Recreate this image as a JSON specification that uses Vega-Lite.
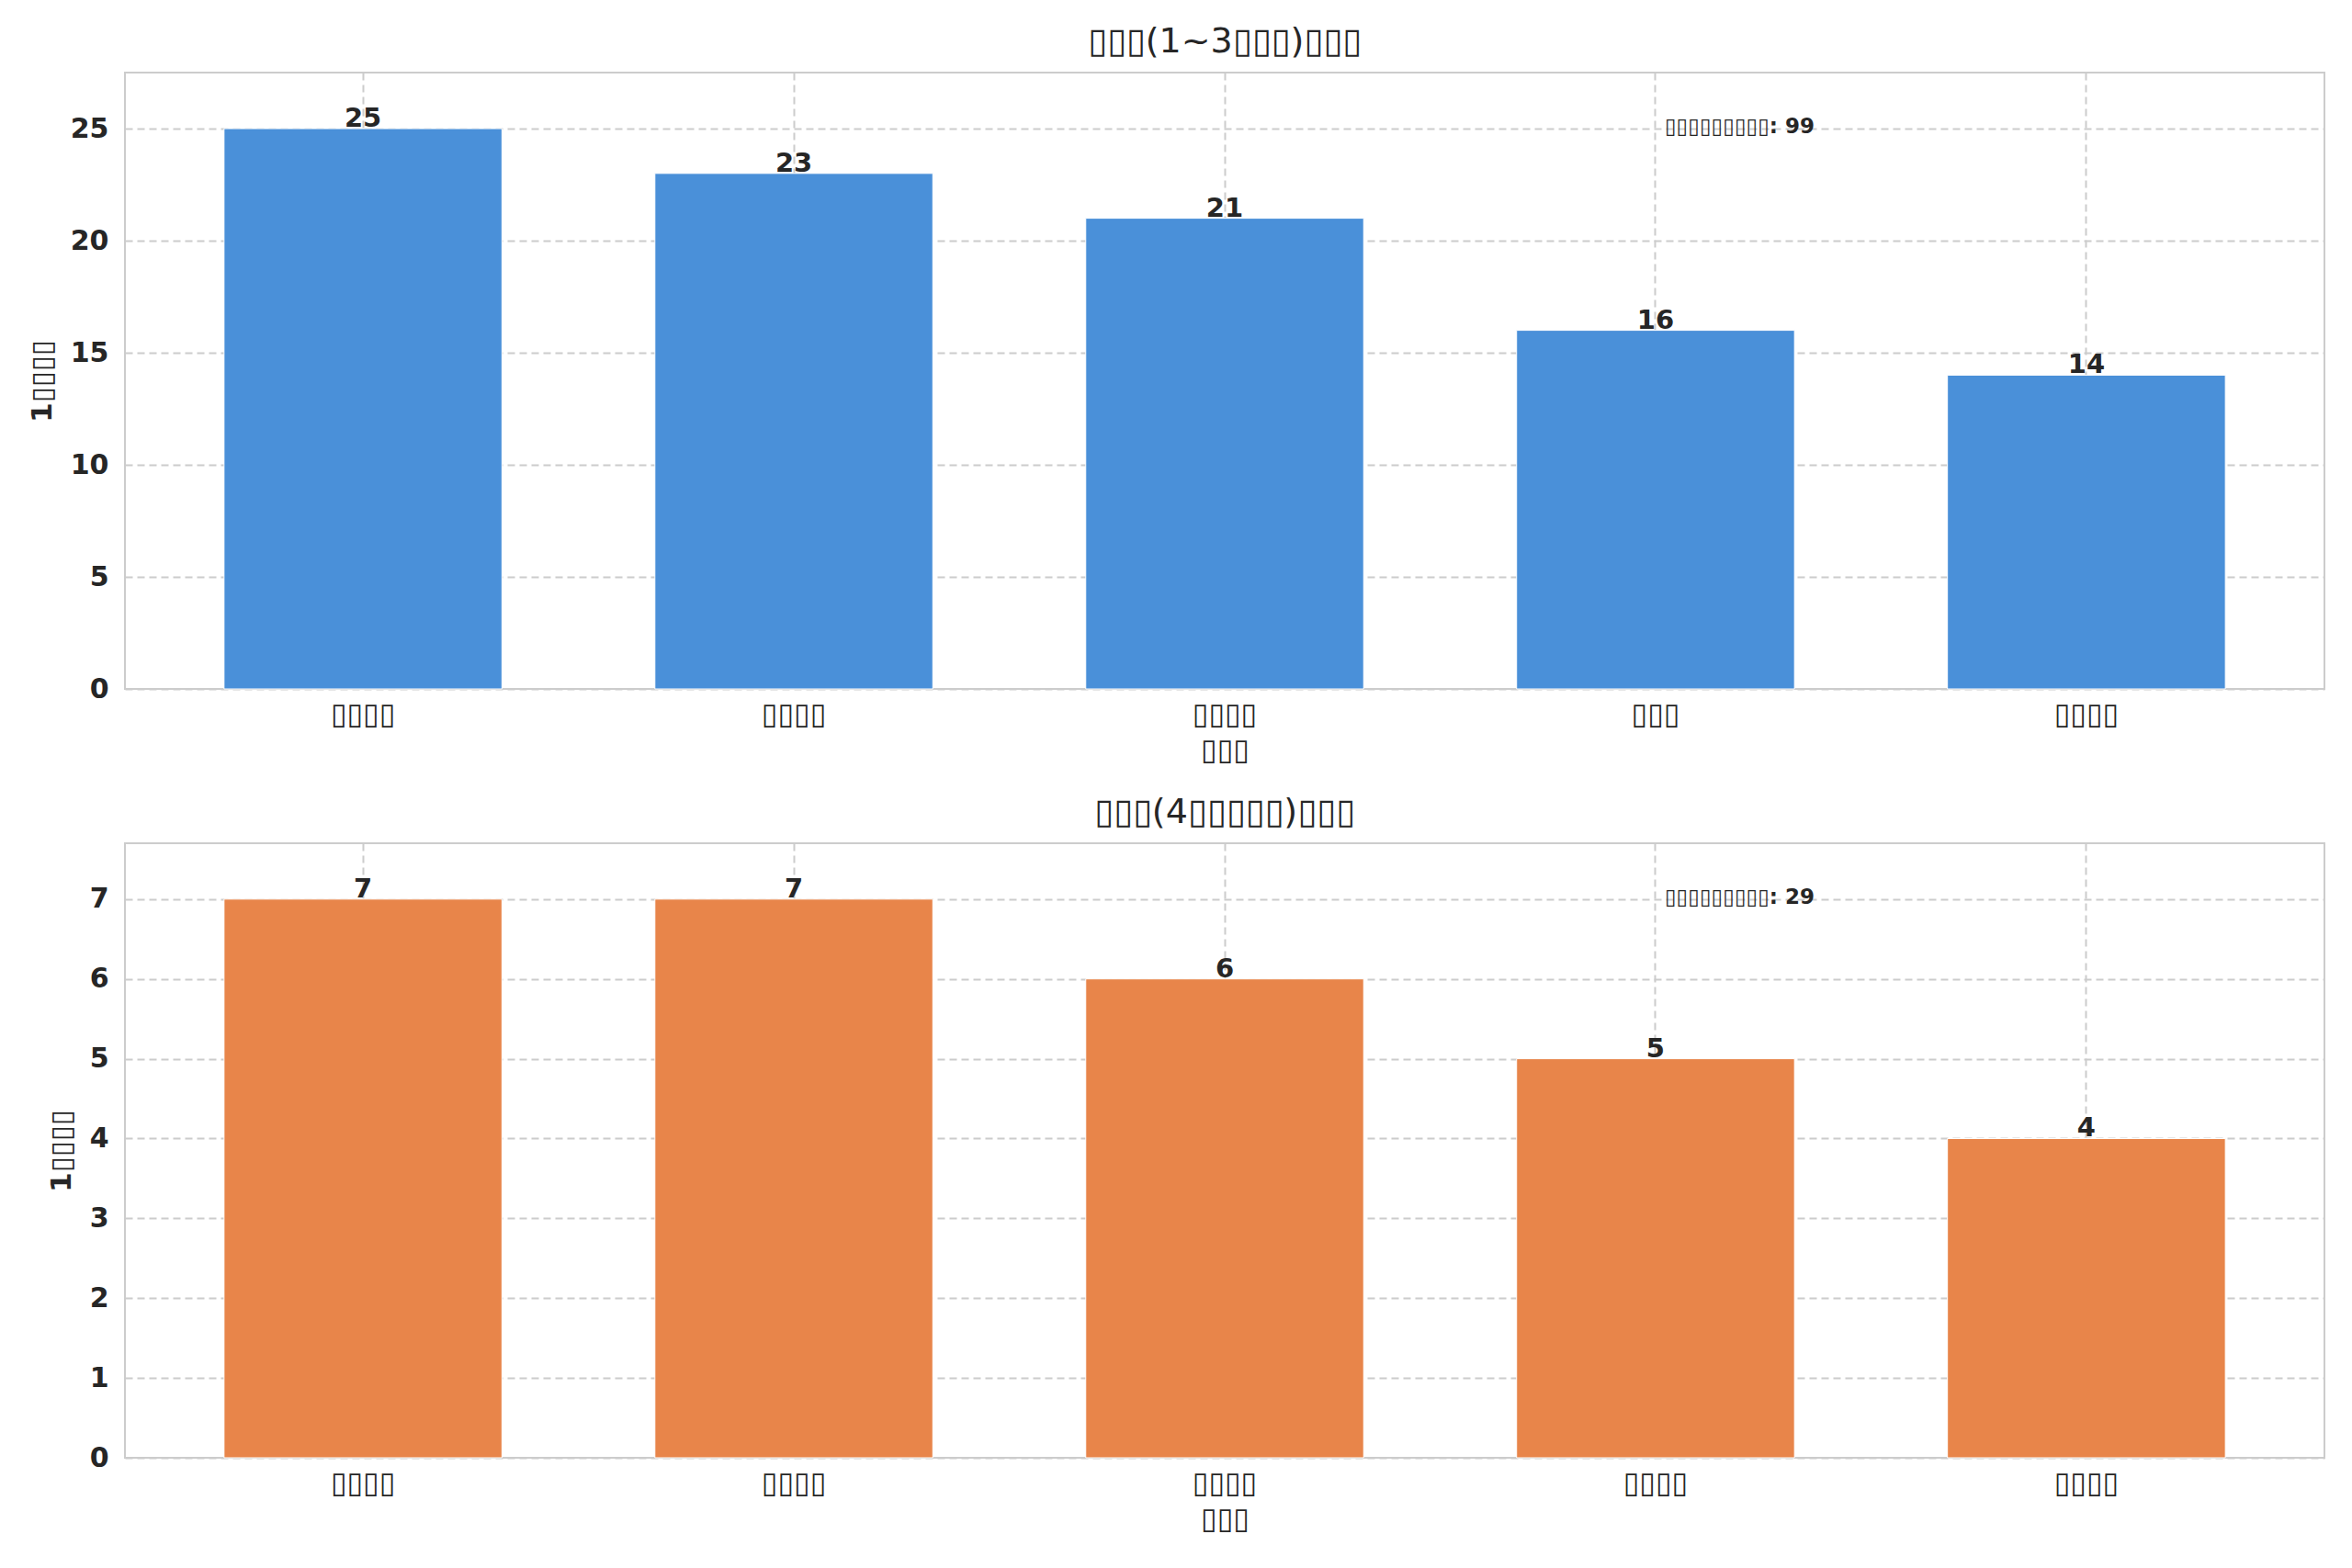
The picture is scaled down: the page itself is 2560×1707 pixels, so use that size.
{
  "$schema": "https://vega.github.io/schema/vega-lite/v6.json",
  "background": "white",
  "padding": {"left": 29, "top": 26, "right": 25, "bottom": 10},
  "spacing": 32,
  "datasets": {
    "small": [
      {"name": "▯▯▯▯", "count": 25},
      {"name": "▯▯▯▯\u200b", "count": 23},
      {"name": "▯▯▯▯\u200b\u200b", "count": 21},
      {"name": "▯▯▯", "count": 16},
      {"name": "▯▯▯▯\u200b\u200b\u200b", "count": 14}
    ],
    "small_note": [
      {"name": "▯▯▯", "count": 25, "label": "▯▯▯▯▯▯▯▯▯: 99"}
    ],
    "large": [
      {"name": "▯▯▯▯", "count": 7},
      {"name": "▯▯▯▯\u200b", "count": 7},
      {"name": "▯▯▯▯\u200b\u200b", "count": 6},
      {"name": "▯▯▯▯\u200b\u200b\u200b", "count": 5},
      {"name": "▯▯▯▯\u200b\u200b\u200b\u200b", "count": 4}
    ],
    "large_note": [
      {"name": "▯▯▯▯\u200b\u200b\u200b", "count": 7, "label": "▯▯▯▯▯▯▯▯▯: 29"}
    ]
  },
  "vconcat": [
    {
      "width": 2394,
      "height": 671,
      "title": {"text": "▯▯▯(1~3▯▯▯)▯▯▯"},
      "layer": [
        {
          "data": {"name": "small"},
          "mark": {"type": "bar", "color": "#4A90D9", "stroke": "#ffffff", "strokeWidth": 1},
          "encoding": {
            "x": {
              "field": "name", "type": "nominal", "sort": null, "title": "▯▯▯",
              "scale": {"paddingInner": 0.355, "paddingOuter": 0.23}
            },
            "y": {
              "field": "count", "type": "quantitative", "title": "1▯▯▯▯",
              "scale": {"domain": [0, 27.5], "nice": false},
              "axis": {"values": [0, 5, 10, 15, 20, 25], "format": "d"}
            }
          }
        },
        {
          "data": {"name": "small"},
          "mark": {"type": "text", "baseline": "alphabetic", "dy": -2, "fontSize": 29, "fontWeight": "bold", "color": "#262626"},
          "encoding": {
            "x": {"field": "name", "type": "nominal", "sort": null},
            "y": {"field": "count", "type": "quantitative"},
            "text": {"field": "count", "type": "quantitative"}
          }
        },
        {
          "data": {"name": "small_note"},
          "mark": {"type": "text", "align": "left", "baseline": "middle", "dx": 10, "dy": -2, "fontSize": 23, "fontWeight": "bold", "color": "#262626"},
          "encoding": {
            "x": {"field": "name", "type": "nominal", "sort": null},
            "y": {"field": "count", "type": "quantitative"},
            "text": {"field": "label", "type": "nominal"}
          }
        }
      ]
    },
    {
      "width": 2394,
      "height": 669,
      "title": {"text": "▯▯▯(4▯▯▯▯▯)▯▯▯"},
      "layer": [
        {
          "data": {"name": "large"},
          "mark": {"type": "bar", "color": "#E8854A", "stroke": "#ffffff", "strokeWidth": 1},
          "encoding": {
            "x": {
              "field": "name", "type": "nominal", "sort": null, "title": "▯▯▯",
              "scale": {"paddingInner": 0.355, "paddingOuter": 0.23}
            },
            "y": {
              "field": "count", "type": "quantitative", "title": "1▯▯▯▯",
              "scale": {"domain": [0, 7.7], "nice": false},
              "axis": {"values": [0, 1, 2, 3, 4, 5, 6, 7], "format": "d"}
            }
          }
        },
        {
          "data": {"name": "large"},
          "mark": {"type": "text", "baseline": "alphabetic", "dy": -2, "fontSize": 29, "fontWeight": "bold", "color": "#262626"},
          "encoding": {
            "x": {"field": "name", "type": "nominal", "sort": null},
            "y": {"field": "count", "type": "quantitative"},
            "text": {"field": "count", "type": "quantitative"}
          }
        },
        {
          "data": {"name": "large_note"},
          "mark": {"type": "text", "align": "left", "baseline": "middle", "dx": 10, "dy": -2, "fontSize": 23, "fontWeight": "bold", "color": "#262626"},
          "encoding": {
            "x": {"field": "name", "type": "nominal", "sort": null},
            "y": {"field": "count", "type": "quantitative"},
            "text": {"field": "label", "type": "nominal"}
          }
        }
      ]
    }
  ],
  "config": {
    "font": "DejaVu Sans",
    "view": {"stroke": "#cccccc", "strokeWidth": 2},
    "title": {"fontSize": 38, "fontWeight": "normal", "color": "#262626", "offset": 14},
    "axis": {
      "domain": false,
      "ticks": false,
      "grid": true,
      "gridColor": "#cccccc",
      "gridDash": [8, 5],
      "gridWidth": 2,
      "labelColor": "#262626",
      "titleColor": "#262626",
      "titleFontWeight": "normal"
    },
    "axisX": {
      "labelAngle": 0,
      "labelFontSize": 32,
      "labelPadding": 12,
      "titleFontSize": 32,
      "titlePadding": 8,
      "bandPosition": 0.5
    },
    "axisY": {
      "labelFontSize": 30,
      "labelFontWeight": "bold",
      "labelPadding": 18,
      "titleFontSize": 31,
      "titleFontWeight": "bold",
      "titlePadding": 14
    }
  }
}
